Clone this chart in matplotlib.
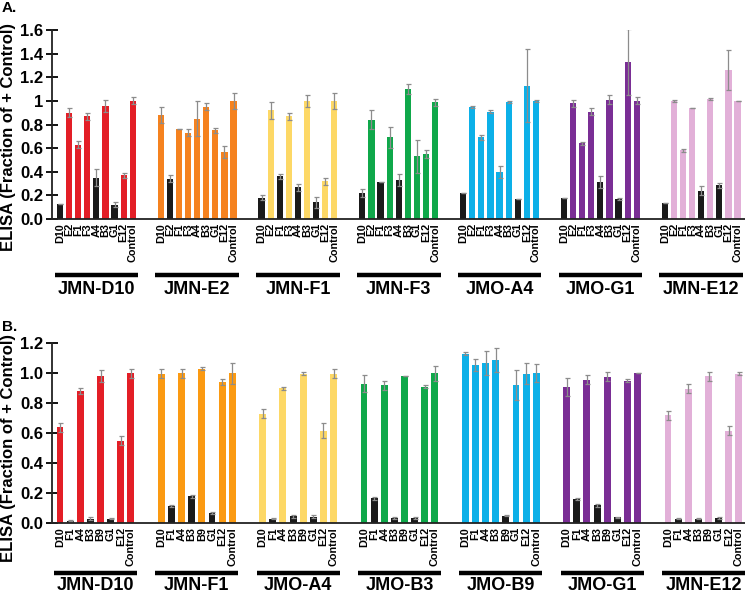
import numpy as np
import matplotlib.pyplot as plt
from matplotlib.transforms import blended_transform_factory

# ---- panel A data ----
a_groups = ['JMN-D10', 'JMN-E2', 'JMN-F1', 'JMN-F3', 'JMO-A4', 'JMO-G1', 'JMN-E12']
a_ticks = ['D10', 'E2', 'F1', 'F3', 'A4', 'B3', 'G1', 'E12', 'Control']
a_colors = ['#e31e26', '#f5821f', '#fdd866', '#0fa84a', '#0cb0e8', '#7a2e95', '#e2b0d8']
a_vals = [
    [0.13, 0.90, 0.63, 0.87, 0.35, 0.96, 0.12, 0.37, 1.00],
    [0.88, 0.34, 0.76, 0.73, 0.85, 0.95, 0.75, 0.57, 1.00],
    [0.18, 0.92, 0.36, 0.87, 0.27, 1.00, 0.14, 0.32, 1.00],
    [0.22, 0.84, 0.31, 0.69, 0.33, 1.10, 0.53, 0.55, 0.99],
    [0.22, 0.95, 0.69, 0.91, 0.40, 0.99, 0.17, 1.13, 1.00],
    [0.18, 0.98, 0.64, 0.91, 0.31, 1.01, 0.17, 1.33, 1.00],
    [0.135, 1.00, 0.58, 0.94, 0.24, 1.015, 0.285, 1.26, 1.00],
]
a_errs = [
    [0.00, 0.04, 0.03, 0.03, 0.07, 0.05, 0.02, 0.02, 0.03],
    [0.07, 0.03, 0.00, 0.03, 0.15, 0.03, 0.02, 0.05, 0.07],
    [0.02, 0.07, 0.02, 0.03, 0.03, 0.05, 0.05, 0.03, 0.07],
    [0.03, 0.08, 0.00, 0.09, 0.05, 0.04, 0.14, 0.03, 0.03],
    [0.00, 0.01, 0.02, 0.01, 0.05, 0.01, 0.00, 0.31, 0.01],
    [0.00, 0.03, 0.01, 0.03, 0.05, 0.04, 0.01, 0.28, 0.03],
    [0.00, 0.01, 0.01, 0.00, 0.04, 0.01, 0.02, 0.17, 0.00],
]
# which bars are drawn black (the group's own antibody)
a_black = [
    [1, 0, 0, 0, 1, 0, 1, 0, 0],
    [0, 1, 0, 0, 0, 0, 0, 0, 0],
    [1, 0, 1, 0, 1, 0, 1, 0, 0],
    [1, 0, 1, 0, 1, 0, 0, 0, 0],
    [1, 0, 0, 0, 0, 0, 1, 0, 0],
    [1, 0, 0, 0, 1, 0, 1, 0, 0],
    [1, 0, 0, 0, 1, 0, 1, 0, 0],
]

# ---- panel B data ----
b_groups = ['JMN-D10', 'JMN-F1', 'JMO-A4', 'JMO-B3', 'JMO-B9', 'JMO-G1', 'JMN-E12']
b_ticks = ['D10', 'F1', 'A4', 'B3', 'B9', 'G1', 'E12', 'Control']
b_colors = ['#e31e26', '#fb9a12', '#fdd866', '#0fa84a', '#0cb0e8', '#7a2e95', '#e2b0d8']
b_vals = [
    [0.64, 0.016, 0.88, 0.027, 0.98, 0.03, 0.55, 1.00],
    [0.995, 0.115, 1.00, 0.178, 1.03, 0.067, 0.94, 1.00],
    [0.73, 0.03, 0.90, 0.045, 0.995, 0.043, 0.615, 0.995],
    [0.93, 0.165, 0.92, 0.035, 0.98, 0.035, 0.91, 1.00],
    [1.127, 1.055, 1.07, 1.085, 0.05, 0.92, 0.995, 1.00],
    [0.91, 0.16, 0.955, 0.12, 0.975, 0.038, 0.95, 1.00],
    [0.72, 0.03, 0.895, 0.03, 0.98, 0.033, 0.615, 0.995],
]
b_errs = [
    [0.03, 0.005, 0.02, 0.01, 0.04, 0.005, 0.03, 0.03],
    [0.03, 0.005, 0.03, 0.01, 0.01, 0.005, 0.02, 0.07],
    [0.03, 0.005, 0.01, 0.01, 0.01, 0.01, 0.05, 0.03],
    [0.055, 0.01, 0.03, 0.005, 0.00, 0.005, 0.01, 0.05],
    [0.01, 0.04, 0.08, 0.08, 0.005, 0.10, 0.07, 0.06],
    [0.06, 0.005, 0.03, 0.01, 0.03, 0.005, 0.01, 0.00],
    [0.03, 0.005, 0.03, 0.005, 0.03, 0.005, 0.03, 0.01],
]
b_black = [
    [0, 1, 0, 1, 0, 1, 0, 0],
    [0, 1, 0, 1, 0, 1, 0, 0],
    [0, 1, 0, 1, 0, 1, 0, 0],
    [0, 1, 0, 1, 0, 1, 0, 0],
    [0, 0, 0, 0, 1, 0, 0, 0],
    [0, 1, 0, 1, 0, 1, 0, 0],
    [0, 1, 0, 1, 0, 1, 0, 0],
]

a_yticks = [0.0, 0.2, 0.4, 0.6, 0.8, 1.0, 1.2, 1.4, 1.6]
a_ylabels = ['0.0', '0.2', '0.4', '0.6', '0.8', '1', '1.2', '1.4', '1.6']
b_yticks = [0.0, 0.2, 0.4, 0.6, 0.8, 1.0, 1.2]
b_ylabels = ['0.0', '0.2', '0.4', '0.6', '0.8', '1.0', '1.2']

plt.rcParams['font.family'] = ['Liberation Sans', 'DejaVu Sans']
plt.rcParams['font.weight'] = 'bold'

fig = plt.figure(figsize=(7.45, 5.94), dpi=100)
W, H = 745.0, 594.0


def draw_panel(ax, groups, ticks, colors, vals, errs, black, period,
               yticks, ylabels, ymax, xlim, line_y, label_y):
    n = len(ticks)
    trans = blended_transform_factory(ax.transData, ax.transAxes)
    xs_all, labels_all = [], []
    for g, name in enumerate(groups):
        xs = g * period + np.arange(n)
        cols = ['#1a1a1a' if b else colors[g] for b in black[g]]
        ax.bar(xs, vals[g], width=0.68, color=cols, zorder=2)
        ax.errorbar(xs, vals[g], yerr=errs[g], fmt='none', ecolor='#8c8c8c',
                    elinewidth=0.9, capsize=1.8, capthick=0.9, zorder=3)
        xs_all.extend(xs)
        labels_all.extend(ticks)
        ax.plot([xs[0] - 0.6, xs[-1] + 0.6], [line_y, line_y], color='black',
                lw=3.2, transform=trans, clip_on=False, solid_capstyle='butt')
        ax.text((xs[0] + xs[-1]) / 2, label_y, name, transform=trans,
                ha='center', va='center', fontsize=13, fontweight='bold')
    ax.set_xticks(xs_all)
    ax.set_xticklabels(labels_all, rotation=90, fontsize=7.8, fontweight='bold',
                       family=['Liberation Sans Narrow', 'Liberation Sans'])
    ax.tick_params(axis='x', length=0, pad=3)
    ax.set_xlim(*xlim)
    ax.set_ylim(0, ymax)
    ax.set_yticks(yticks)
    ax.set_yticklabels(ylabels, fontsize=12, fontweight='bold')
    ax.tick_params(axis='y', direction='inout', length=9, width=1.3, pad=2)
    for s in ['top', 'right']:
        ax.spines[s].set_visible(False)
    ax.spines['left'].set_linewidth(1.3)
    ax.spines['bottom'].set_linewidth(1.3)
    ax.spines['left'].set_color('#222222')
    ax.spines['bottom'].set_color('#222222')


ax_a = fig.add_axes([52 / W, 1 - 219 / H, 1 - 52 / W, (219 - 30) / H])
draw_panel(ax_a, a_groups, a_ticks, a_colors, a_vals, a_errs, a_black, 11.08,
           a_yticks, a_ylabels, 1.6, (-0.88, 75.3), -0.296, -0.375)

ax_b = fig.add_axes([52 / W, 1 - 523 / H, 1 - 52 / W, (523 - 343) / H])
draw_panel(ax_b, b_groups, b_ticks, b_colors, b_vals, b_errs, b_black, 10.0,
           b_yticks, b_ylabels, 1.2, (-0.79, 67.6), -0.278, -0.35)

ylab = 'ELISA (Fraction of + Control)'
fig.text(9 / W, 1 - 137 / H, ylab, rotation=90, fontsize=12, fontweight='bold',
         ha='center', va='center')
fig.text(9 / W, 1 - 448 / H, ylab, rotation=90, fontsize=12, fontweight='bold',
         ha='center', va='center')

fig.text(2 / W, 1 - 8 / H, 'A.', fontsize=11, fontweight='bold', va='center')
fig.text(2 / W, 1 - 327 / H, 'B.', fontsize=11, fontweight='bold', va='center')

fig.savefig('out.png', dpi=100)
